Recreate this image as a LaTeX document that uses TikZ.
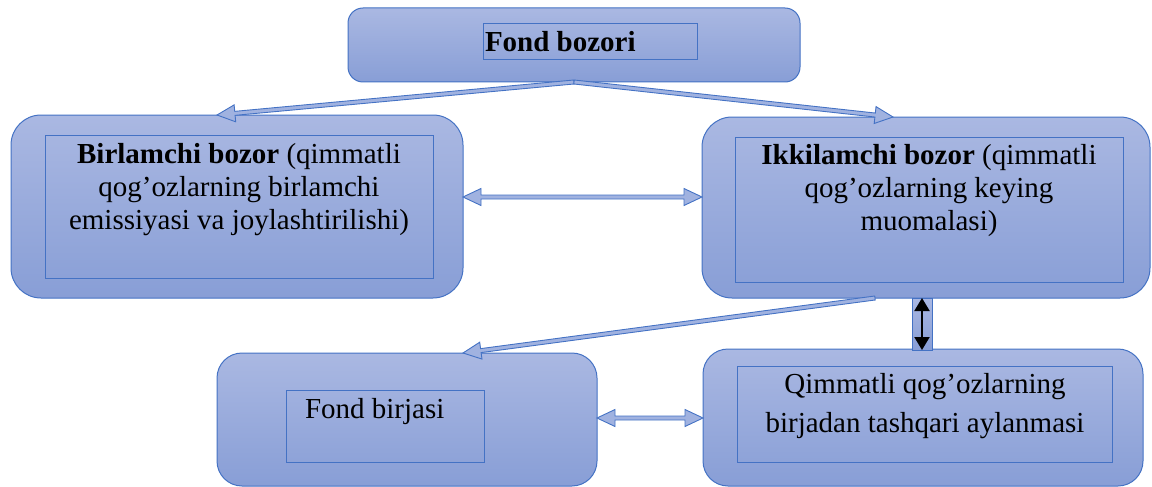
\documentclass[tikz,border=0pt]{standalone}
\usepackage{fontspec}
\setmainfont{Liberation Serif}
\usetikzlibrary{calc,arrows.meta}

\definecolor{boxtop}{RGB}{170,184,226}
\definecolor{boxbot}{RGB}{136,158,214}
\definecolor{edgeblue}{RGB}{68,114,196}
\definecolor{arrowfill}{RGB}{160,178,224}

\tikzset{
  outerbox/.style={draw=edgeblue, line width=1pt, top color=boxtop, bottom color=boxbot,
    inner sep=0pt, outer sep=0pt},
  innerbox/.style={draw=edgeblue, line width=0.8pt, inner sep=0pt, outer sep=0pt},
  label29/.style={inner sep=0pt, outer sep=0pt, font=\fontsize{29}{33}\selectfont},
  arrowbody/.style={draw=edgeblue, line width=0.9pt, fill=arrowfill, line join=miter},
}

% block arrow with a head at the end point
\newcommand\blockarrow[2]{%
  \coordinate (ba-s) at #1; \coordinate (ba-e) at #2;
  \coordinate (ba-h) at ($(ba-e)!18pt!(ba-s)$);
  \filldraw[arrowbody]
    ($(ba-s)!2pt!90:(ba-e)$) -- ($(ba-h)!2pt!90:(ba-e)$) -- ($(ba-h)!8.5pt!90:(ba-e)$)
    -- (ba-e) -- ($(ba-h)!8.5pt!-90:(ba-e)$) -- ($(ba-h)!2pt!-90:(ba-e)$)
    -- ($(ba-s)!2pt!-90:(ba-e)$) -- cycle;
}
% block arrow with heads at both ends
\newcommand\blockarrowboth[2]{%
  \coordinate (ba-s) at #1; \coordinate (ba-e) at #2;
  \coordinate (ba-h) at ($(ba-e)!18pt!(ba-s)$);
  \coordinate (ba-g) at ($(ba-s)!18pt!(ba-e)$);
  \filldraw[arrowbody]
    (ba-s) -- ($(ba-g)!8.5pt!90:(ba-e)$) -- ($(ba-g)!2pt!90:(ba-e)$)
    -- ($(ba-h)!2pt!90:(ba-e)$) -- ($(ba-h)!8.5pt!90:(ba-e)$)
    -- (ba-e) -- ($(ba-h)!8.5pt!-90:(ba-e)$) -- ($(ba-h)!2pt!-90:(ba-e)$)
    -- ($(ba-g)!2pt!-90:(ba-e)$) -- ($(ba-g)!8.5pt!-90:(ba-e)$) -- cycle;
}

\begin{document}
\begin{tikzpicture}[x=1pt,y=-1pt]
\useasboundingbox (0,0) rectangle (1152,487);

% outer rounded boxes
\node[outerbox, minimum width=452pt, minimum height=74pt, rounded corners=15pt] (top) at (574,45) {};
\node[outerbox, minimum width=452pt, minimum height=183pt, rounded corners=30pt] (left) at (237,206.5) {};
\node[outerbox, minimum width=448pt, minimum height=181pt, rounded corners=30pt] (right) at (926,207.5) {};
\node[outerbox, minimum width=380pt, minimum height=133pt, rounded corners=25pt] (bl) at (407,419.5) {};
\node[outerbox, minimum width=440pt, minimum height=137pt, rounded corners=25pt] (br) at (923,417.5) {};

% inner frames
\node[innerbox, minimum width=214pt, minimum height=36pt] (topin) at (590,41) {};
\node[innerbox, minimum width=388pt, minimum height=143pt] (leftin) at (239,206.5) {};
\node[innerbox, minimum width=388pt, minimum height=145pt] (rightin) at (929,209.5) {};
\node[innerbox, minimum width=198pt, minimum height=72pt] (blin) at (385,426) {};
\node[innerbox, minimum width=375pt, minimum height=96pt] (brin) at (924.5,414) {};

% texts (the base anchor of a multi-line node sits on its last line)
\node[label29, anchor=base west] (toptext) at (485,52) {\textbf{Fond bozori}};
\node[label29, anchor=base, align=center] (lefttext) at (239,229)
  {\textbf{Birlamchi bozor} (qimmatli\\qog’ozlarning birlamchi\\emissiyasi va joylashtirilishi)};
\node[label29, anchor=base, align=center] (righttext) at (929,230)
  {\textbf{Ikkilamchi bozor} (qimmatli\\qog’ozlarning keying\\muomalasi)};
\node[label29, anchor=base west] (bltext) at (305,418) {Fond birjasi};
\node[label29, anchor=base, align=center, font=\fontsize{29}{39}\selectfont] (brtext) at (925,432)
  {Qimmatli qog’ozlarning\\birjadan tashqari aylanmasi};

% connectors
\blockarrow{(top.south)}{(217,0 |- left.north)}
\blockarrow{(top.south)}{(893,0 |- right.north)}
\blockarrowboth{(left.east |- 0,197)}{(right.west |- 0,197)}
\blockarrow{(875,0 |- right.south)}{(463,0 |- bl.north)}
\blockarrowboth{(bl.east |- 0,418)}{(br.west |- 0,418)}

% small vertical link with a black double arrow
\node[outerbox, line width=0.8pt, minimum width=20pt, minimum height=52pt] (vlink) at (922,324) {};
\draw[line width=2pt, {Triangle[length=13pt,width=15pt]}-{Triangle[length=13pt,width=15pt]}]
  (vlink.north) -- (vlink.south);
\end{tikzpicture}
\end{document}
